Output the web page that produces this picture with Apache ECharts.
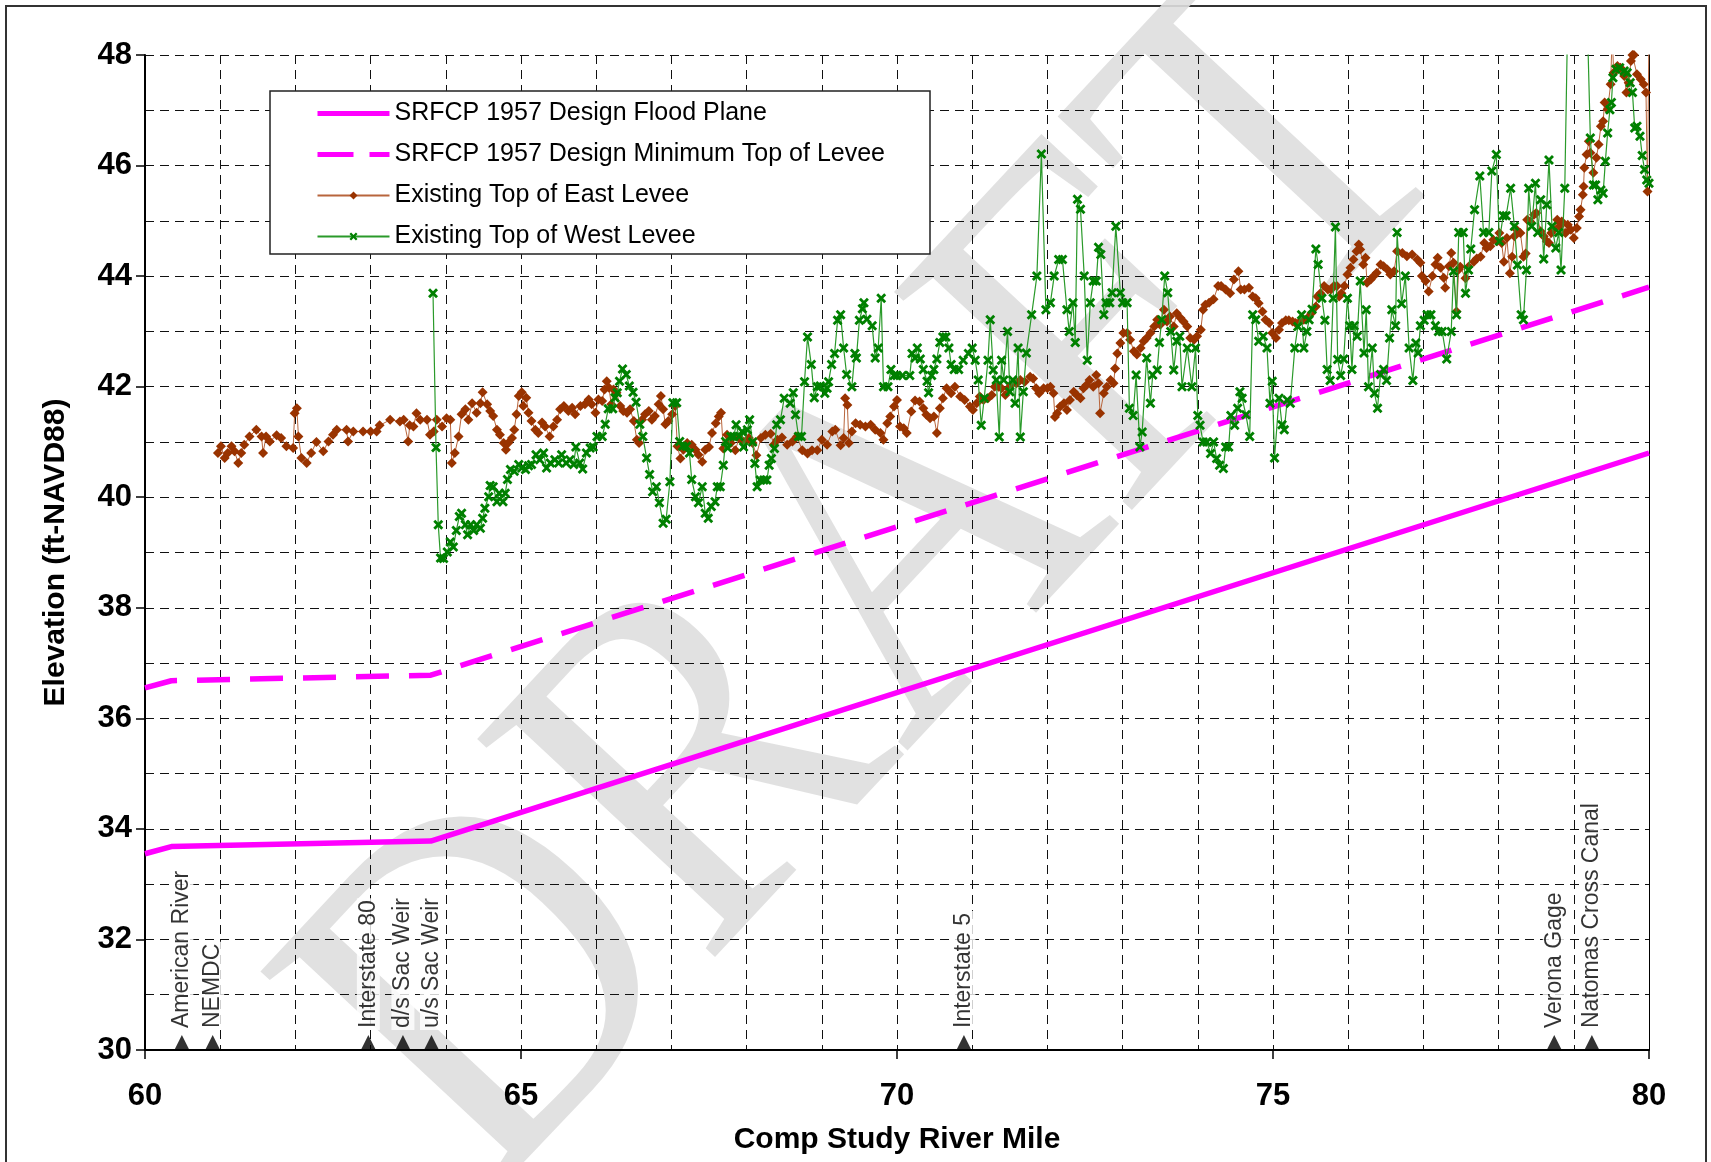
<!DOCTYPE html>
<html>
<head>
<meta charset="utf-8">
<title>Levee profile</title>
<script src="https://cdn.jsdelivr.net/npm/echarts@6/dist/echarts.min.js"></script>
<style>
html, body { margin: 0; padding: 0; background: #fff; }
#main { width: 1711px; height: 1162px; }
</style>
</head>
<body>
<div id="main"></div>
<script>
// design profiles (river mile / elevation ft-NAVD88)
var floodMile = [60, 60.35, 63.8, 80];
var floodElev = [33.55, 33.68, 33.78, 40.8];
var minTopMile = [60, 60.35, 63.8, 80];
var minTopElev = [36.55, 36.68, 36.78, 43.8];

// surveyed east levee crown
var eastMile = [60.97, 61.01, 61.06, 61.10, 61.15, 61.19, 61.24, 61.28, 61.32, 61.39, 61.48, 61.55, 61.57, 61.61, 61.66, 61.75, 61.81, 61.88, 61.97, 61.99,
  62.02, 62.04, 62.08, 62.15, 62.21, 62.28, 62.37, 62.44, 62.50, 62.55, 62.68, 62.70, 62.77, 62.90, 63.00, 63.08, 63.12, 63.26, 63.39, 63.44,
  63.50, 63.52, 63.57, 63.61, 63.66, 63.75, 63.79, 63.84, 63.88, 63.95, 64.01, 64.06, 64.08, 64.12, 64.17, 64.21, 64.26, 64.30, 64.35, 64.41,
  64.46, 64.49, 64.55, 64.59, 64.63, 64.68, 64.72, 64.77, 64.80, 64.83, 64.88, 64.91, 64.94, 64.97, 65.01, 65.03, 65.07, 65.10, 65.14, 65.19,
  65.23, 65.28, 65.32, 65.38, 65.43, 65.48, 65.52, 65.57, 65.63, 65.68, 65.72, 65.79, 65.85, 65.90, 65.94, 65.99, 66.03, 66.08, 66.11, 66.14,
  66.17, 66.20, 66.23, 66.27, 66.32, 66.36, 66.41, 66.45, 66.50, 66.54, 66.57, 66.61, 66.65, 66.70, 66.74, 66.78, 66.83, 66.86, 66.89, 66.92,
  66.96, 67.01, 67.05, 67.08, 67.12, 67.16, 67.21, 67.27, 67.32, 67.36, 67.41, 67.45, 67.50, 67.54, 67.59, 67.63, 67.66, 67.69, 67.74, 67.79,
  67.85, 67.90, 67.96, 68.03, 68.08, 68.13, 68.19, 68.25, 68.32, 68.36, 68.41, 68.47, 68.54, 68.61, 68.67, 68.74, 68.81, 68.87, 68.94, 69.00,
  69.07, 69.14, 69.18, 69.25, 69.29, 69.31, 69.34, 69.36, 69.40, 69.45, 69.51, 69.58, 69.65, 69.71, 69.78, 69.82, 69.87, 69.91, 69.96, 70.00,
  70.04, 70.09, 70.13, 70.19, 70.24, 70.30, 70.35, 70.39, 70.44, 70.49, 70.53, 70.57, 70.61, 70.66, 70.72, 70.77, 70.84, 70.90, 70.97, 71.01,
  71.06, 71.10, 71.15, 71.21, 71.26, 71.30, 71.35, 71.39, 71.44, 71.48, 71.52, 71.59, 71.64, 71.70, 71.77, 71.81, 71.85, 71.89, 71.95, 72.00,
  72.04, 72.08, 72.10, 72.13, 72.17, 72.22, 72.26, 72.30, 72.35, 72.39, 72.44, 72.48, 72.52, 72.56, 72.61, 72.65, 72.68, 72.70, 72.75, 72.79,
  72.84, 72.88, 72.90, 72.93, 72.97, 73.01, 73.06, 73.10, 73.15, 73.19, 73.24, 73.28, 73.32, 73.37, 73.42, 73.46, 73.50, 73.55, 73.59, 73.63,
  73.68, 73.72, 73.77, 73.81, 73.86, 73.90, 73.95, 73.99, 74.04, 74.07, 74.10, 74.15, 74.21, 74.27, 74.31, 74.37, 74.43, 74.48, 74.54, 74.57,
  74.62, 74.68, 74.73, 74.77, 74.81, 74.86, 74.90, 74.95, 74.99, 75.04, 75.08, 75.12, 75.17, 75.21, 75.26, 75.30, 75.36, 75.41, 75.46, 75.51,
  75.57, 75.59, 75.63, 75.68, 75.73, 75.77, 75.81, 75.85, 75.88, 75.91, 75.95, 75.99, 76.03, 76.07, 76.11, 76.14, 76.16, 76.20, 76.23, 76.25,
  76.30, 76.34, 76.38, 76.43, 76.47, 76.52, 76.56, 76.61, 76.65, 76.72, 76.78, 76.85, 76.92, 76.96, 76.98, 77.03, 77.07, 77.12, 77.16, 77.19,
  77.23, 77.27, 77.29, 77.34, 77.37, 77.40, 77.44, 77.47, 77.49, 77.56, 77.60, 77.67, 77.71, 77.76, 77.81, 77.84, 77.89, 77.93, 77.98, 78.01,
  78.04, 78.07, 78.11, 78.15, 78.18, 78.21, 78.24, 78.29, 78.33, 78.36, 78.38, 78.42, 78.47, 78.50, 78.56, 78.60, 78.64, 78.67, 78.70, 78.73,
  78.78, 78.81, 78.84, 78.89, 78.92, 78.96, 79.00, 79.04, 79.07, 79.09, 79.12, 79.13, 79.14, 79.17, 79.20, 79.22, 79.26, 79.30, 79.33, 79.36,
  79.39, 79.41, 79.45, 79.49, 79.51, 79.53, 79.58, 79.62, 79.67, 79.70, 79.73, 79.76, 79.78, 79.80, 79.84, 79.89, 79.93, 79.96, 79.98, 80.00];
var eastElev = [40.80, 40.92, 40.71, 40.80, 40.92, 40.83, 40.62, 40.80, 40.95, 41.10, 41.22, 41.10, 40.80, 41.10, 41.01, 41.12, 41.07, 40.92, 40.89, 41.52,
  41.61, 41.10, 40.71, 40.62, 40.80, 41.00, 40.83, 41.01, 41.13, 41.22, 41.22, 41.01, 41.19, 41.19, 41.19, 41.19, 41.30, 41.40, 41.37, 41.40,
  41.01, 41.30, 41.28, 41.52, 41.40, 41.40, 41.13, 41.19, 41.40, 41.28, 41.43, 41.40, 40.62, 40.80, 41.10, 41.50, 41.59, 41.40, 41.70, 41.53,
  41.70, 41.90, 41.68, 41.56, 41.47, 41.22, 41.13, 40.98, 40.86, 40.98, 41.07, 41.22, 41.50, 41.83, 41.90, 41.65, 41.80, 41.53, 41.38, 41.22,
  41.16, 41.35, 41.28, 41.10, 41.28, 41.40, 41.59, 41.65, 41.56, 41.62, 41.50, 41.65, 41.68, 41.77, 41.68, 41.53, 41.77, 41.74, 41.95, 42.10,
  41.98, 41.68, 41.95, 41.89, 41.65, 41.56, 41.53, 41.59, 41.38, 41.04, 40.98, 41.40, 41.50, 41.56, 41.40, 41.47, 41.68, 41.83, 41.59, 41.32,
  41.38, 41.50, 41.65, 40.92, 40.70, 40.86, 40.98, 40.95, 40.86, 40.77, 40.64, 40.86, 40.91, 41.16, 41.34, 41.46, 41.53, 40.88, 41.13, 40.98,
  40.85, 41.07, 41.00, 41.07, 40.98, 40.76, 41.07, 41.13, 41.15, 40.95, 41.04, 41.08, 40.95, 41.01, 41.10, 40.85, 40.79, 40.85, 40.85, 41.04,
  40.95, 41.19, 41.22, 40.94, 41.07, 41.79, 41.67, 40.98, 41.19, 41.34, 41.31, 41.28, 41.31, 41.22, 41.16, 41.04, 41.34, 41.46, 41.64, 41.76,
  41.28, 41.25, 41.16, 41.55, 41.75, 41.73, 41.61, 41.49, 41.43, 41.46, 41.16, 41.61, 41.79, 41.97, 41.88, 42.00, 41.82, 41.76, 41.64, 41.58,
  41.70, 41.82, 41.76, 41.79, 41.85, 42.00, 42.00, 41.97, 41.85, 41.97, 42.03, 42.06, 42.12, 42.09, 42.18, 42.15, 41.97, 41.88, 41.97, 41.97,
  42.00, 41.88, 41.45, 41.52, 41.64, 41.70, 41.58, 41.76, 41.91, 41.85, 41.79, 41.97, 42.03, 42.12, 42.00, 42.21, 42.06, 41.52, 41.88, 42.00,
  42.12, 42.06, 42.33, 42.60, 42.79, 42.97, 42.97, 42.85, 42.64, 42.58, 42.70, 42.82, 42.88, 42.97, 43.09, 43.21, 43.12, 43.39, 43.18, 43.27,
  43.09, 43.33, 43.24, 43.18, 43.09, 42.88, 42.85, 42.91, 43.03, 43.39, 43.48, 43.52, 43.58, 43.82, 43.82, 43.76, 43.69, 43.94, 44.09, 43.76,
  43.76, 43.79, 43.63, 43.60, 43.51, 43.36, 43.21, 43.15, 42.97, 42.88, 43.03, 43.15, 43.20, 43.20, 43.18, 43.15, 43.18, 43.21, 43.24, 43.33,
  43.45, 43.63, 43.69, 43.82, 43.76, 43.76, 43.82, 43.82, 43.63, 43.69, 43.82, 44.03, 44.15, 44.30, 44.45, 44.57, 44.48, 44.21, 44.33, 43.88,
  43.94, 44.00, 44.06, 44.21, 44.18, 44.12, 44.03, 44.09, 44.45, 44.42, 44.36, 44.39, 44.30, 44.24, 44.00, 43.91, 43.72, 44.00, 44.21, 44.33,
  44.15, 43.97, 43.79, 44.18, 44.42, 44.24, 43.36, 44.12, 44.17, 43.96, 44.17, 44.26, 44.32, 44.35, 44.60, 44.51, 44.54, 44.66, 44.63, 44.78,
  44.60, 44.26, 44.69, 44.05, 44.35, 44.72, 44.84, 44.78, 44.35, 44.41, 45.02, 44.99, 45.11, 45.14, 44.81, 44.72, 44.63, 44.60, 44.78, 44.84,
  45.02, 44.90, 44.99, 44.78, 44.93, 44.84, 44.69, 44.87, 45.08, 45.20, 45.47, 45.62, 45.96, 46.20, 46.44, 46.23, 45.87, 46.14, 46.38, 46.71,
  46.80, 47.14, 47.02, 47.47, 48.40, 47.68, 47.80, 47.77, 47.62, 47.32, 47.50, 47.89, 48.00, 48.00, 47.65, 47.56, 47.47, 47.32, 45.53, 48.60];

// surveyed west levee crown
var westMile = [63.83, 63.87, 63.90, 63.93, 63.97, 64.02, 64.06, 64.10, 64.14, 64.18, 64.21, 64.26, 64.29, 64.33, 64.37, 64.41, 64.46, 64.49, 64.52, 64.57,
  64.59, 64.63, 64.68, 64.71, 64.76, 64.79, 64.82, 64.86, 64.91, 64.97, 65.01, 65.06, 65.10, 65.14, 65.20, 65.25, 65.30, 65.34, 65.39, 65.45,
  65.50, 65.54, 65.60, 65.65, 65.70, 65.73, 65.78, 65.82, 65.87, 65.92, 65.96, 66.01, 66.08, 66.12, 66.16, 66.22, 66.25, 66.28, 66.31, 66.35,
  66.40, 66.44, 66.49, 66.53, 66.58, 66.62, 66.67, 66.71, 66.75, 66.80, 66.84, 66.89, 66.93, 66.98, 67.02, 67.07, 67.11, 67.15, 67.20, 67.24,
  67.27, 67.32, 67.36, 67.41, 67.45, 67.49, 67.53, 67.58, 67.61, 67.65, 67.69, 67.72, 67.75, 67.79, 67.83, 67.86, 67.90, 67.94, 67.96, 68.01,
  68.04, 68.08, 68.11, 68.14, 68.18, 68.23, 68.27, 68.30, 68.33, 68.37, 68.40, 68.45, 68.50, 68.58, 68.62, 68.65, 68.69, 68.73, 68.77, 68.81,
  68.86, 68.90, 68.94, 68.98, 69.04, 69.07, 69.09, 69.13, 69.17, 69.21, 69.25, 69.29, 69.33, 69.40, 69.44, 69.46, 69.50, 69.54, 69.56, 69.60,
  69.67, 69.71, 69.75, 69.79, 69.82, 69.88, 69.92, 69.96, 70.00, 70.07, 70.17, 70.20, 70.24, 70.27, 70.31, 70.35, 70.40, 70.42, 70.46, 70.49,
  70.53, 70.57, 70.61, 70.65, 70.69, 70.72, 70.76, 70.82, 70.88, 70.95, 71.00, 71.04, 71.08, 71.12, 71.16, 71.21, 71.24, 71.28, 71.32, 71.36,
  71.39, 71.42, 71.47, 71.50, 71.54, 71.57, 71.61, 71.64, 71.68, 71.72, 71.79, 71.86, 71.92, 71.98, 72.04, 72.09, 72.15, 72.20, 72.26, 72.29,
  72.34, 72.37, 72.40, 72.44, 72.49, 72.53, 72.57, 72.61, 72.65, 72.68, 72.71, 72.75, 72.78, 72.83, 72.86, 72.91, 72.97, 73.00, 73.06, 73.09,
  73.14, 73.18, 73.23, 73.26, 73.32, 73.37, 73.40, 73.46, 73.49, 73.52, 73.56, 73.60, 73.64, 73.68, 73.72, 73.76, 73.79, 73.86, 73.92, 73.97,
  74.00, 74.03, 74.07, 74.12, 74.17, 74.21, 74.25, 74.29, 74.34, 74.37, 74.41, 74.44, 74.49, 74.53, 74.56, 74.59, 74.64, 74.69, 74.73, 74.77,
  74.81, 74.87, 74.92, 74.96, 74.99, 75.02, 75.08, 75.12, 75.15, 75.19, 75.23, 75.29, 75.33, 75.38, 75.41, 75.45, 75.48, 75.52, 75.57, 75.60,
  75.65, 75.69, 75.72, 75.76, 75.80, 75.83, 75.86, 75.90, 75.94, 75.99, 76.02, 76.05, 76.08, 76.12, 76.16, 76.21, 76.24, 76.27, 76.32, 76.35,
  76.39, 76.43, 76.47, 76.51, 76.55, 76.58, 76.63, 76.65, 76.71, 76.76, 76.81, 76.86, 76.90, 76.93, 76.96, 77.01, 77.05, 77.10, 77.16, 77.20,
  77.25, 77.31, 77.37, 77.40, 77.44, 77.47, 77.53, 77.56, 77.60, 77.63, 77.68, 77.75, 77.80, 77.87, 77.91, 77.97, 78.01, 78.06, 78.10, 78.16,
  78.21, 78.25, 78.30, 78.33, 78.37, 78.40, 78.44, 78.49, 78.52, 78.56, 78.60, 78.64, 78.67, 78.71, 78.76, 78.80, 78.83, 78.88, 78.92, 79.18,
  79.22, 79.26, 79.29, 79.32, 79.36, 79.39, 79.42, 79.45, 79.48, 79.50, 79.52, 79.56, 79.61, 79.67, 79.71, 79.75, 79.78, 79.81, 79.84, 79.88,
  79.91, 79.94, 79.97, 80.00];
var westElev = [43.69, 40.90, 39.50, 38.90, 38.89, 39.01, 39.19, 39.10, 39.40, 39.65, 39.71, 39.50, 39.32, 39.50, 39.40, 39.50, 39.44, 39.62, 39.80, 40.01,
  40.21, 40.19, 39.92, 40.07, 39.92, 40.07, 40.32, 40.50, 40.47, 40.59, 40.53, 40.50, 40.57, 40.59, 40.77, 40.68, 40.80, 40.53, 40.62, 40.68,
  40.62, 40.77, 40.62, 40.68, 40.59, 40.91, 40.62, 40.51, 40.80, 40.89, 40.91, 41.10, 41.10, 41.32, 41.60, 41.60, 41.80, 41.89, 42.10, 42.32,
  42.22, 42.01, 41.90, 41.72, 41.32, 41.10, 40.71, 40.41, 40.10, 40.19, 39.90, 39.53, 39.60, 40.28, 41.71, 41.71, 41.01, 40.92, 40.92, 40.80,
  40.32, 40.01, 39.90, 40.19, 39.71, 39.62, 39.83, 39.92, 40.19, 40.19, 40.58, 41.01, 40.89, 41.10, 41.10, 41.31, 41.10, 41.19, 40.91, 41.22,
  41.40, 41.00, 40.61, 40.19, 40.31, 40.31, 40.31, 40.58, 40.70, 40.88, 41.31, 41.40, 41.79, 41.70, 41.89, 41.49, 41.10, 41.10, 42.09, 42.90,
  42.40, 41.80, 42.00, 42.01, 41.88, 41.97, 42.09, 42.40, 42.60, 43.20, 43.30, 42.70, 42.22, 42.00, 42.60, 42.52, 43.20, 43.41, 43.52, 43.22,
  43.10, 42.52, 42.70, 43.60, 42.00, 42.00, 42.31, 42.20, 42.20, 42.20, 42.20, 42.60, 42.52, 42.70, 42.50, 42.31, 42.10, 41.89, 42.20, 42.31,
  42.50, 42.80, 42.90, 42.90, 42.70, 42.40, 42.31, 42.31, 42.48, 42.60, 42.70, 42.48, 42.12, 41.30, 41.79, 42.48, 43.21, 42.30, 42.12, 41.09,
  42.48, 42.12, 43.00, 41.91, 42.12, 41.70, 42.70, 41.09, 41.91, 42.61, 43.30, 44.00, 46.21, 43.39, 43.52, 44.00, 44.30, 44.30, 43.39, 43.00,
  43.52, 42.80, 45.39, 45.21, 44.00, 42.48, 43.52, 43.91, 43.91, 44.52, 44.39, 43.30, 43.52, 43.52, 43.70, 44.90, 43.70, 43.52, 43.52, 41.61,
  41.48, 42.21, 40.91, 41.18, 42.52, 41.70, 42.21, 42.30, 42.80, 43.21, 44.00, 43.70, 43.00, 42.30, 42.82, 42.91, 42.00, 42.70, 42.00, 42.70,
  41.48, 41.30, 41.00, 41.00, 40.79, 41.00, 40.70, 40.58, 40.52, 40.91, 40.91, 41.48, 41.30, 41.61, 41.91, 41.79, 41.49, 41.10, 43.30, 43.21,
  42.82, 42.91, 42.70, 41.70, 42.10, 40.71, 41.79, 41.31, 41.22, 41.76, 41.70, 42.70, 43.09, 43.30, 42.70, 43.00, 43.21, 43.40, 44.49, 44.21,
  43.60, 43.20, 42.31, 42.11, 43.60, 44.89, 42.49, 42.20, 42.50, 43.60, 43.10, 42.31, 43.10, 42.91, 43.91, 42.61, 43.39, 42.00, 42.70, 41.88,
  41.61, 42.22, 42.31, 42.11, 42.88, 43.39, 43.10, 44.79, 43.50, 44.00, 42.70, 42.11, 42.79, 42.61, 43.10, 43.20, 43.30, 43.30, 43.10, 43.00,
  43.00, 42.50, 43.00, 44.09, 43.30, 44.79, 44.79, 43.69, 44.11, 44.49, 45.20, 45.81, 44.79, 44.79, 45.90, 46.20, 44.63, 45.09, 45.09, 45.59,
  44.90, 44.20, 43.30, 43.21, 44.11, 45.59, 44.90, 45.68, 44.79, 45.38, 44.31, 45.29, 46.10, 44.90, 44.51, 44.79, 44.11, 45.59, 48.80, 48.60,
  46.50, 45.65, 45.65, 45.38, 45.56, 45.50, 46.08, 46.59, 47.01, 47.14, 47.59, 47.74, 47.77, 47.71, 47.68, 47.50, 47.32, 46.68, 46.71, 46.53,
  46.18, 45.93, 45.74, 45.68];

// reference sites along the river
var siteNames = ['American River', 'NEMDC', 'Interstate 80', 'd/s Sac Weir', 'u/s Sac Weir', 'Interstate 5', 'Verona Gage', 'Natomas Cross Canal'];
var siteMiles = [60.49, 60.90, 62.97, 63.43, 63.81, 70.89, 78.74, 79.24];

function pairs(xs, ys) {
  return xs.map(function (x, i) { return [x, ys[i]]; });
}

var chart = echarts.init(document.getElementById('main'));

var gridLine = { color: '#111', width: 1, type: [9, 6] };
var xMark = 'path://M0,2 L2,0 L5,3 L8,0 L10,2 L7,5 L10,8 L8,10 L5,7 L2,10 L0,8 L3,5 Z';

chart.setOption({
  animation: false,
  backgroundColor: '#fff',
  grid: { left: 145, right: 62, top: 55, bottom: 112 },
  graphic: [
    {
      type: 'rect', silent: true, z: 0,
      shape: { x: 6, y: 6, width: 1700, height: 1180 },
      style: { fill: 'none', stroke: '#333', lineWidth: 2 }
    },
    {
      // DRAFT watermark
      type: 'text', silent: true, z: 0,
      x: 885, y: 585, rotation: 47 * Math.PI / 180, scaleY: 1.12,
      style: {
        text: 'DRAFT', font: '440px "Liberation Serif"',
        fill: '#dedede', opacity: 0.9,
        textAlign: 'center', textVerticalAlign: 'middle'
      }
    }
  ],
  legend: {
    data: [
      { name: 'SRFCP 1957 Design Flood Plane', itemStyle: { opacity: 0 }, lineStyle: { width: 5 } },
      { name: 'SRFCP 1957 Design Minimum Top of Levee', itemStyle: { opacity: 0 }, lineStyle: { width: 5, type: [36, 16] } },
      'Existing Top of East Levee',
      'Existing Top of West Levee'
    ],
    orient: 'vertical', left: 270, top: 91,
    padding: [10, 45, 5, 45],
    itemWidth: 72, itemHeight: 10, itemGap: 16,
    backgroundColor: '#fff', borderColor: '#222', borderWidth: 1.5, borderRadius: 0,
    textStyle: { fontFamily: 'Liberation Sans', fontSize: 25, color: '#000' }
  },
  xAxis: {
    type: 'value', min: 60, max: 80, interval: 5,
    name: 'Comp Study River Mile', nameLocation: 'middle', nameGap: 75,
    nameTextStyle: { fontFamily: 'Liberation Sans', fontWeight: 'bold', fontSize: 30, color: '#000' },
    axisLine: { lineStyle: { color: '#000', width: 2 } },
    axisTick: { length: 9, lineStyle: { color: '#000', width: 1.5 } },
    axisLabel: { margin: 31, fontFamily: 'Liberation Sans', fontWeight: 'bold', fontSize: 31, color: '#000' },
    splitLine: { show: true, lineStyle: gridLine },
    minorTick: { show: true, splitNumber: 5, length: 0 },
    minorSplitLine: { show: true, lineStyle: gridLine }
  },
  yAxis: [
    {
      type: 'value', min: 30, max: 48, interval: 2,
      name: 'Elevation (ft-NAVD88)', nameLocation: 'middle', nameGap: 74,
      nameTextStyle: { fontFamily: 'Liberation Sans', fontWeight: 'bold', fontSize: 30, color: '#000' },
      axisLine: { show: true, lineStyle: { color: '#000', width: 2 } },
      axisTick: { show: true, length: 9, lineStyle: { color: '#000', width: 1.5 } },
      axisLabel: { margin: 13, fontFamily: 'Liberation Sans', fontWeight: 'bold', fontSize: 31, color: '#000' },
      splitLine: { show: true, lineStyle: gridLine },
      minorTick: { show: true, splitNumber: 2, length: 0 },
      minorSplitLine: { show: true, lineStyle: gridLine }
    },
    {
      type: 'value', min: 30, max: 48, position: 'right',
      axisLine: { show: true, lineStyle: { color: '#000', width: 1 } },
      axisTick: { show: false }, axisLabel: { show: false }, splitLine: { show: false }
    }
  ],
  series: [
    {
      name: 'SRFCP 1957 Design Flood Plane', type: 'line', z: 3,
      data: pairs(floodMile, floodElev), symbol: 'none',
      lineStyle: { color: '#ff00ff', width: 5.5 }, itemStyle: { color: '#ff00ff' }
    },
    {
      name: 'SRFCP 1957 Design Minimum Top of Levee', type: 'line', z: 3,
      data: pairs(minTopMile, minTopElev), symbol: 'none',
      lineStyle: { color: '#ff00ff', width: 5.5, type: [33, 20] }, itemStyle: { color: '#ff00ff' }
    },
    {
      name: 'Existing Top of East Levee', type: 'line', z: 4,
      data: pairs(eastMile, eastElev),
      symbol: 'diamond', symbolSize: 10,
      lineStyle: { color: '#b8653c', width: 1 },
      itemStyle: { color: '#993300' }
    },
    {
      name: 'Existing Top of West Levee', type: 'line', z: 5,
      data: pairs(westMile, westElev),
      symbol: xMark, symbolSize: 10,
      lineStyle: { color: '#2a9a2a', width: 1.2 },
      itemStyle: { color: '#008000' }
    },
    {
      name: 'sites', type: 'scatter', z: 6, clip: false,
      data: siteMiles.map(function (m, i) { return { value: [m, 30], name: siteNames[i] }; }),
      symbol: 'triangle', symbolSize: [15, 15], symbolOffset: [0, -7.5],
      itemStyle: { color: '#000' },
      label: {
        show: true, position: 'top', distance: 5, rotate: 90,
        align: 'left', verticalAlign: 'middle',
        formatter: '{b}', fontFamily: 'Liberation Sans', fontSize: 23, color: '#000',
        backgroundColor: '#fff', padding: [0, 2]
      }
    }
  ]
});
</script>
</body>
</html>
